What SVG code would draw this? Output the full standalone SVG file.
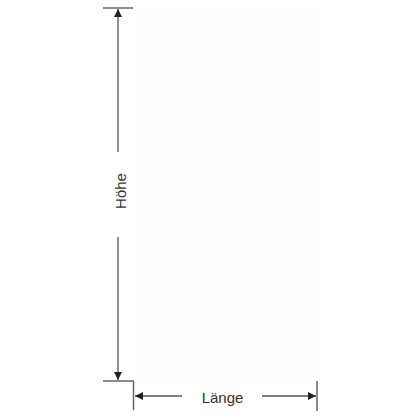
<svg xmlns="http://www.w3.org/2000/svg" width="420" height="420" viewBox="0 0 420 420">
  <style>
    .dim { stroke: #555555; stroke-width: 1.3; fill: none; }
    .tick { stroke: #666666; stroke-width: 1.5; fill: none; }
    .lbl { font-family: "Liberation Sans", Arial, sans-serif; font-size: 15px; fill: #333333; text-anchor: middle; }
    .ghost { fill: #fefefe; stroke: none; }
    .panel { fill: #fefefe; stroke: #fbfbfb; stroke-width: 1; }
  </style>
  <defs>
    <marker id="ah" viewBox="0 0 10 10" refX="10" refY="5" markerWidth="8" markerHeight="8" markerUnits="userSpaceOnUse" orient="auto">
      <path d="M0,0 L10,5 L0,10 Z" fill="#222222"/>
    </marker>
  </defs>
  <rect width="420" height="420" fill="#ffffff"/>
  <g id="cabinet">
    <rect class="ghost" x="134" y="8" width="184" height="373"/>
    <rect class="panel" x="235" y="62" width="43" height="43"/>
    <rect class="panel" x="235" y="136" width="43" height="42"/>
    <rect class="panel" x="235" y="210" width="43" height="43"/>
    <rect class="panel" x="235" y="282" width="43" height="43"/>
    <rect class="panel" x="175" y="157" width="48" height="73"/>
  </g>
  <g id="connectors">
    <line class="tick" x1="103" y1="8" x2="133" y2="8"/>
    <line class="tick" x1="103" y1="381" x2="134" y2="381"/>
    <line class="tick" x1="133.5" y1="381" x2="133.5" y2="410"/>
    <line class="tick" x1="317" y1="381" x2="317" y2="411"/>
    <line class="dim" x1="118" y1="152" x2="118" y2="9" marker-end="url(#ah)"/>
    <line class="dim" x1="118" y1="237" x2="118" y2="380" marker-end="url(#ah)"/>
    <line class="dim" x1="182" y1="396" x2="135" y2="396" marker-end="url(#ah)"/>
    <line class="dim" x1="262" y1="396" x2="316" y2="396" marker-end="url(#ah)"/>
  </g>
  <g id="hoehe">
    <text class="lbl" transform="translate(126,191) rotate(-90)" x="0" y="0">Höhe</text>
  </g>
  <g id="laenge">
    <text class="lbl" x="222.5" y="403">Länge</text>
  </g>
</svg>
